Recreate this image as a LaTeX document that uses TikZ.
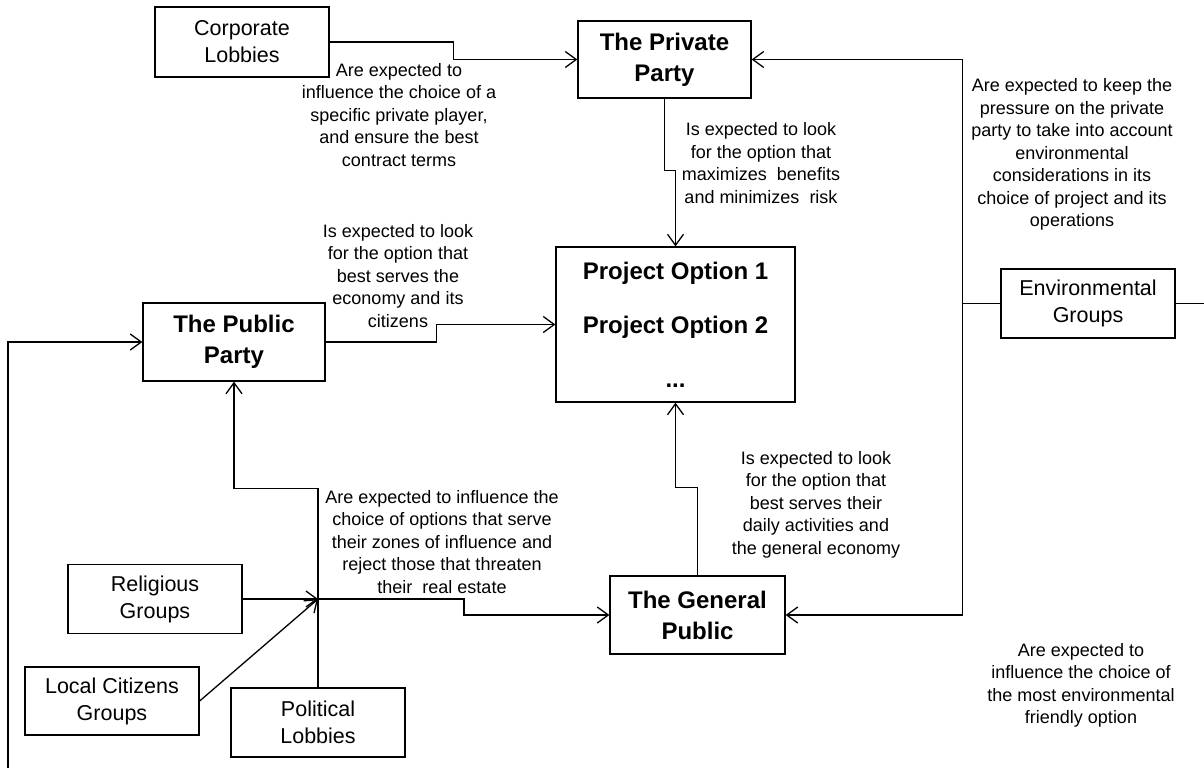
\documentclass[tikz,border=0pt]{standalone}
\usepackage{fontspec}
\setmainfont{Liberation Sans}
\usetikzlibrary{arrows.meta}

\begin{document}
\begin{tikzpicture}[x=1pt,y=-1pt,line width=1.3pt,
  box/.style={draw,align=center,inner sep=2pt,minimum width=174pt,minimum height=69pt,font=\fontsize{21.5}{27}\selectfont},
  party/.style={box,minimum height=78pt,font=\fontsize{24}{31}\selectfont\bfseries},
  note/.style={align=center,inner sep=0pt,font=\fontsize{18}{22.5}\selectfont},
  arr/.style={-{Straight Barb[length=11pt,width=16pt]}}]
  \useasboundingbox (0,0) rectangle (1204,768);
  \node[box,minimum height=70pt] at (242,42) (corp) {Corporate\\Lobbies};
  \node[party,minimum width=173pt,minimum height=77pt] at (664.5,59.5) (priv) {The Private\\Party};
  \node[draw,align=center,minimum width=239pt,minimum height=155pt,font=\fontsize{24}{29}\selectfont\bfseries] at (675.5,324.5) (proj) {Project Option 1\\[25pt]Project Option 2\\[25pt]...};
  \node[party,minimum width=182pt] at (234,342) (pub) {The Public\\Party};
  \node[party,minimum width=175pt] at (697.5,615) (gen) {The General\\Public};
  \node[box] at (1088,303.5) (env) {Environmental\\Groups};
  \node[box] at (155,599) (rel) {Religious\\Groups};
  \node[box,minimum height=68pt] at (112,701) (loc) {Local Citizens\\Groups};
  \node[box] at (318,722.5) (pol) {Political\\Lobbies};
  \coordinate (hub) at (318,599);
  \coordinate (low) at (8,768);
  \coordinate (rim) at (1204,303.5);
  \draw[arr] (corp.east) -- ++(124,0) |- (priv.west);
  \draw[arr] (priv.south) -- ++(0,72) -| (proj.north);
  \draw[arr] (pub.east) -- ++(111,0) |- (proj.west);
  \draw[arr] (gen.north) -- ++(0,-88) -| (proj.south);
  \draw[arr] (env.west) -- ++(-38,0) coordinate (ej) |- (priv.east);
  \draw[arr] (ej) |- (gen.east);
  \draw (env.east) -- (rim);
  \draw[arr] (low) |- (pub.west);
  \draw[arr] (rel.east) -- (hub);
  \draw[arr] (loc.east) -- (hub);
  \draw[arr] (pol.north) -- ++(0,-199) -| (pub.south);
  \draw[arr] (hub) -- ++(146,0) |- (gen.west);
  \node[note] at (399,115) (n1) {Are expected to\\influence the choice of a\\specific private player,\\and ensure the best\\contract terms};
  \node[note] at (761,163) (n2) {Is expected to look\\for the option that\\maximizes\ \ benefits\\and minimizes\ \ risk};
  \node[note] at (1072,154.5) (n3) {Are expected to keep the\\pressure on the private\\party to take into account\\environmental\\considerations in its\\choice of project and its\\operations};
  \node[note] at (398,276) (n4) {Is expected to look\\for the option that\\best serves the\\economy and its\\citizens};
  \node[note] at (442,542) (n5) {Are expected to influence the\\choice of options that serve\\their zones of influence and\\reject those that threaten\\their\ \ real estate};
  \node[note] at (816,504.5) (n6) {Is expected to look\\for the option that\\best serves their\\daily activities and\\the general economy};
  \node[note] at (1081,685.5) (n7) {Are expected to\\influence the choice of\\the most environmental\\friendly option};
\end{tikzpicture}
\end{document}
